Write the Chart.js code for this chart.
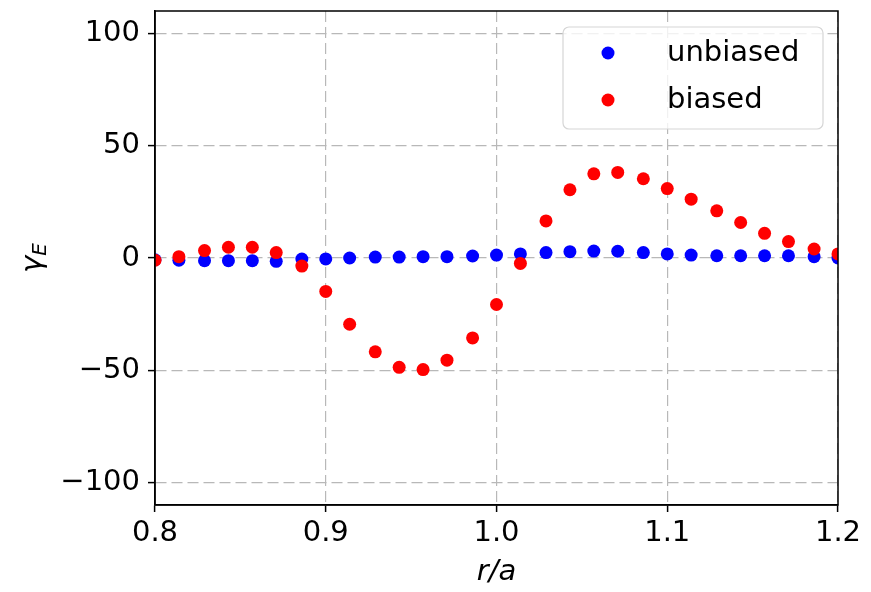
<!DOCTYPE html>
<html>
<head>
<meta charset="utf-8">
<script src="https://cdn.jsdelivr.net/npm/chart.js@4/dist/chart.umd.min.js"></script>
<style>
  html, body { margin: 0; padding: 0; background: #fff; }
  #wrap { width: 871px; height: 592px; }
</style>
</head>
<body>
<div id="wrap"><canvas id="myChart"></canvas></div>
<script>
// r/a positions of the samples
const rAxis = [0.800, 0.814, 0.829, 0.843, 0.857, 0.871, 0.886, 0.900, 0.914, 0.929,
               0.943, 0.957, 0.971, 0.986, 1.000, 1.014, 1.029, 1.043, 1.057, 1.071,
               1.086, 1.100, 1.114, 1.129, 1.143, 1.157, 1.171, 1.186, 1.200];
const unbiased = [-0.8, -1.0, -1.2, -1.2, -1.2, -1.5, -0.5, -0.4, 0.0, 0.4,
                  0.4, 0.6, 0.6, 0.9, 1.3, 1.8, 2.4, 2.8, 3.1, 3.0,
                  2.4, 1.8, 1.3, 1.0, 1.0, 1.0, 1.0, 0.6, 0.0];
const biased = [-1.0, 0.6, 3.3, 4.8, 4.8, 2.4, -3.6, -14.9, -29.5, -41.8,
                -48.7, -49.7, -45.5, -35.6, -20.7, -2.4, 16.5, 30.4, 37.5, 38.1,
                35.3, 30.9, 26.2, 21.0, 15.8, 11.0, 7.3, 4.0, 1.8];
const xTicks = [0.8, 0.9, 1.0, 1.1, 1.2];
const yTicks = [-100, -50, 0, 50, 100];

const FONT = "'DejaVu Sans', sans-serif";
const toPoints = (ys) => ys.map((y, i) => ({ x: rAxis[i], y: y }));

// frame around the plot area (matplotlib style spines)
const framePlugin = {
    id: 'frame',
    afterDatasetsDraw(chart) {
        const { ctx, chartArea: a } = chart;
        ctx.save();
        ctx.strokeStyle = '#000';
        ctx.lineWidth = 1.5;
        ctx.strokeRect(a.left, a.top, a.right - a.left, a.bottom - a.top);
        ctx.restore();
    }
};

// legend box inside the upper right corner
const insideLegend = {
    id: 'insideLegend',
    afterDraw(chart) {
        const { ctx, chartArea: a } = chart;
        const w = 260, h = 102, r = 6;
        const x0 = a.right - 15 - w, y0 = a.top + 16;
        ctx.save();
        ctx.beginPath();
        ctx.moveTo(x0 + r, y0);
        ctx.arcTo(x0 + w, y0, x0 + w, y0 + h, r);
        ctx.arcTo(x0 + w, y0 + h, x0, y0 + h, r);
        ctx.arcTo(x0, y0 + h, x0, y0, r);
        ctx.arcTo(x0, y0, x0 + w, y0, r);
        ctx.closePath();
        ctx.fillStyle = 'rgba(255,255,255,0.8)';
        ctx.fill();
        ctx.strokeStyle = '#d6d6d6';
        ctx.lineWidth = 1.2;
        ctx.stroke();
        ctx.font = '29px ' + FONT;
        ctx.textBaseline = 'middle';
        chart.data.datasets.forEach((ds, i) => {
            const cy = y0 + 26 + i * 47;
            ctx.beginPath();
            ctx.arc(x0 + 45, cy, 6.5, 0, Math.PI * 2);
            ctx.fillStyle = ds.backgroundColor;
            ctx.fill();
            ctx.fillStyle = '#000';
            ctx.fillText(ds.label, x0 + 104, cy);
        });
        ctx.restore();
    }
};

// y axis label: gamma with subscript E
const yLabel = {
    id: 'yLabel',
    afterDraw(chart) {
        const { ctx, chartArea: a } = chart;
        const cy = (a.top + a.bottom) / 2;
        ctx.save();
        ctx.translate(41, cy);
        ctx.rotate(-Math.PI / 2);
        ctx.fillStyle = '#000';
        ctx.textBaseline = 'alphabetic';
        ctx.font = 'italic 29px ' + FONT;
        const gw = ctx.measureText('γ').width;
        ctx.font = 'italic 20px ' + FONT;
        const ew = ctx.measureText('E').width;
        const start = -(gw + ew) / 2;
        ctx.font = 'italic 29px ' + FONT;
        ctx.fillText('γ', start, 0);
        ctx.font = 'italic 20px ' + FONT;
        ctx.fillText('E', start + gw, 5);
        ctx.restore();
    }
};

const data = {
    datasets: [{
        label: 'unbiased',
        data: toPoints(unbiased),
        backgroundColor: '#0000ff',
        borderWidth: 0,
        pointRadius: 6.5,
        order: 1
    }, {
        label: 'biased',
        data: toPoints(biased),
        backgroundColor: '#ff0000',
        borderWidth: 0,
        pointRadius: 6.5,
        order: 0
    }]
};

const config = {
    type: 'scatter',
    data: data,
    options: {
        responsive: true,
        maintainAspectRatio: false,
        animation: false,
        events: [],
        layout: {
            padding: { top: 11, right: 33, left: 0, bottom: 0 }
        },
        plugins: {
            legend: { display: false },
            tooltip: { enabled: false }
        },
        scales: {
            x: {
                type: 'linear',
                min: 0.8,
                max: 1.2,
                afterBuildTicks: (scale) => { scale.ticks = xTicks.map(v => ({ value: v })); },
                afterFit: (scale) => {
                    scale.height = 87;
                    scale.paddingLeft = 0;
                    scale.paddingRight = 0;
                },
                ticks: {
                    font: { size: 29, family: FONT },
                    color: '#000',
                    padding: 4,
                    maxRotation: 0,
                    callback: (v) => v.toFixed(1)
                },
                grid: {
                    color: '#b8b8b8',
                    lineWidth: 1.2,
                    tickLength: 7,
                    tickColor: '#000',
                    tickWidth: 1.5
                },
                border: { display: true, color: '#000', width: 1.5, dash: [11, 5] },
                title: {
                    display: true,
                    text: 'r/a',
                    font: { size: 29, family: FONT, style: 'italic' },
                    color: '#000',
                    padding: { top: 0, bottom: 2 }
                }
            },
            y: {
                min: -110,
                max: 110,
                afterBuildTicks: (scale) => { scale.ticks = yTicks.map(v => ({ value: v })); },
                afterFit: (scale) => {
                    scale.width = 155;
                    scale.paddingTop = 0;
                    scale.paddingBottom = 0;
                },
                ticks: {
                    font: { size: 29, family: FONT },
                    color: '#000',
                    padding: 8,
                    callback: (v) => (v < 0 ? '\u2212' + Math.abs(v) : String(v))
                },
                grid: {
                    color: '#b8b8b8',
                    lineWidth: 1.2,
                    tickLength: 7,
                    tickColor: '#000',
                    tickWidth: 1.5
                },
                border: { display: true, color: '#000', width: 1.5, dash: [11, 5] }
            }
        }
    },
    plugins: [framePlugin, insideLegend, yLabel]
};

new Chart(document.getElementById('myChart').getContext('2d'), config);
</script>
</body>
</html>
